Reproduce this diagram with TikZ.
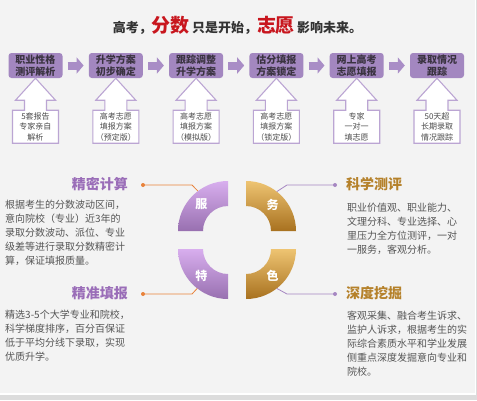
\documentclass[tikz,border=0pt]{standalone}
\usepackage{fontspec}
\setmainfont{Noto Sans CJK SC}
\usepackage{tikz}
\usetikzlibrary{arrows.meta,calc}
\usepackage{xcolor}

\definecolor{panelgray}{HTML}{F3F3F3}
\definecolor{edgegray}{HTML}{DCDCDC}
\definecolor{stepfill}{HTML}{A387C0}
\definecolor{steptext}{HTML}{3A3340}
\definecolor{arrowfill}{HTML}{A98DC6}
\definecolor{calloutline}{HTML}{BBA5D3}
\definecolor{titlered}{HTML}{C8161E}
\definecolor{purplehead}{HTML}{9A6DB8}
\definecolor{goldhead}{HTML}{B5812A}
\definecolor{linkorange}{HTML}{E8823A}
\definecolor{linkpurple}{HTML}{A687C2}
\definecolor{bodytext}{HTML}{555555}
\definecolor{purpletop}{HTML}{D8AEEE}
\definecolor{purplebot}{HTML}{9870B0}
\definecolor{goldtop}{HTML}{EEC472}
\definecolor{goldbot}{HTML}{A8711F}

\begin{document}
\begin{tikzpicture}[
    x=1pt,y=-1pt,
    titletxt/.style={font=\fontsize{13}{15}\selectfont\bfseries,text=black!80},
    stepbox/.style={rectangle,rounded corners=3pt,fill=stepfill,minimum width=54pt,minimum height=25pt,inner sep=0pt,align=center,text=steptext,font=\fontsize{10}{11.5}\selectfont\bfseries},
    notebox/.style={rectangle,minimum width=46pt,minimum height=33pt,inner sep=0pt,align=center,text=black!70,font=\fontsize{8}{10.5}\selectfont},
    callout/.style={draw=calloutline,fill=white,line width=1.1pt,line join=miter},
    stepflow/.style={-{Triangle[length=7pt,width=16pt]},draw=arrowfill,line width=8pt,shorten <=5pt,shorten >=5pt},
    segtxt/.style={text=white,font=\fontsize{12}{12}\selectfont\bfseries},
    headL/.style={anchor=east,inner sep=0pt,text=purplehead,font=\fontsize{14}{14}\selectfont\bfseries},
    headR/.style={anchor=west,inner sep=0pt,text=goldhead,font=\fontsize{14}{14}\selectfont\bfseries},
    para/.style={anchor=north west,inner sep=0pt,align=left,text=bodytext,font=\fontsize{10}{14.2}\selectfont},
    dotL/.style={circle,fill=linkorange,minimum size=4pt,inner sep=0pt},
    dotR/.style={circle,fill=linkpurple,minimum size=4pt,inner sep=0pt},
    linkL/.style={draw=linkorange,line width=0.8pt},
    linkR/.style={draw=linkpurple,line width=0.8pt}
  ]
    % page background
    \fill[edgegray] (0,0) rectangle (477,400);
    \fill[white] (0,0) rectangle (476,394.5);
    \fill[panelgray] (0,0) rectangle (475,393);

    \node[titletxt] (title) at (237.5,25) {高考，{\color{titlered}\fontsize{19}{19}\selectfont 分数}\,只是开始，{\color{titlered}\fontsize{19}{19}\selectfont 志愿}\,影响未来。};

    % process row
    \foreach \i/\cx/\step/\note in {
        1/35.5/{职业性格\\测评解析}/{5套报告\\专家亲自\\解析},
        2/115.8/{升学方案\\初步确定}/{高考志愿\\填报方案\\（预定版）},
        3/196.1/{跟踪调整\\升学方案}/{高考志愿\\填报方案\\（模拟版）},
        4/276.4/{估分填报\\方案锁定}/{高考志愿\\填报方案\\（锁定版）},
        5/356.7/{网上高考\\志愿填报}/{专家\\一对一\\填志愿},
        6/437/{录取情况\\跟踪}/{50天超\\长期录取\\情况跟踪}} {
      \node[stepbox] (s\i) at (\cx,65.5) {\step};
      \draw[callout] (s\i.south) -- ++(-20,22) -- ++(9,0) -- ++(0,10) -- ++(-12,0)
        -- ++(0,33) -- ++(46,0) -- ++(0,-33) -- ++(-12,0) -- ++(0,-10) -- ++(9,0) -- cycle;
      \node[notebox] (d\i) at ($(s\i.south)+(0,48.5)$) {\note};
    }
    \foreach \i [count=\j from 2] in {1,...,5} {
      \draw[stepflow] (s\i) -- (s\j);
    }

    % service ring
    \foreach \cx/\cy/\a/\tc/\bc in {228/231/90/purpletop/purplebot,246/231/0/goldtop/goldbot,
        228/249/180/purpletop/purplebot,246/249/270/goldtop/goldbot} {
      \shade[top color=\tc,bottom color=\bc] (\cx,\cy) ++(\a:25pt) -- ++(\a:25pt)
        arc[start angle=\a,end angle=\a+90,radius=50pt] -- ++(\a+270:25pt)
        arc[start angle=\a+90,end angle=\a,radius=25pt] -- cycle;
    }
    \node[segtxt] (fu) at ($(228,231)+(135:37.5pt)$) {服};
    \node[segtxt] (wu) at ($(246,231)+(45:37.5pt)$) {务};
    \node[segtxt] (te) at ($(228,249)+(225:37.5pt)$) {特};
    \node[segtxt] (se) at ($(246,249)+(315:37.5pt)$) {色};

    \coordinate (eFu) at ($(228,231)+(127:50pt)$);
    \coordinate (eWu) at ($(246,231)+(52:50pt)$);
    \coordinate (eTe) at ($(228,249)+(232:50pt)$);
    \coordinate (eSe) at ($(246,249)+(308:50pt)$);

    \node[dotL] (dot1) at (143,185) {};
    \node[dotR] (dot2) at (335,185) {};
    \node[dotL] (dot3) at (143,294) {};
    \node[dotR] (dot4) at (335,294) {};
    \draw[linkL] (dot1.center) -- ++(49,0) -- (eFu);
    \draw[linkR] (dot2.center) -- ++(-48,0) -- (eWu);
    \draw[linkL] (dot3.center) -- ++(49,0) -- (eTe);
    \draw[linkR] (dot4.center) -- ++(-48,0) -- (eSe);

    \node[headL] (h1) at (128,184) {精密计算};
    \node[headR] (h2) at (346,184) {科学测评};
    \node[headL] (h3) at (128,293) {精准填报};
    \node[headR] (h4) at (346,293) {深度挖掘};

    \node[para] (p1) at (5,199.5) {根据考生的分数波动区间，\\意向院校（专业）近3年的\\录取分数波动、派位、专业\\级差等进行录取分数精密计\\算，保证填报质量。};
    \node[para] (p2) at (347,202.5) {职业价值观、职业能力、\\文理分科、专业选择、心\\里压力全方位测评，一对\\一服务，客观分析。};
    \node[para] (p3) at (5,309.5) {精选3-5个大学专业和院校，\\科学梯度排序，百分百保证\\低于平均分线下录取，实现\\优质升学。};
    \node[para] (p4) at (347,310.5) {客观采集、融合考生诉求、\\监护人诉求，根据考生的实\\际综合素质水平和学业发展\\侧重点深度发掘意向专业和\\院校。};
\end{tikzpicture}
\end{document}
